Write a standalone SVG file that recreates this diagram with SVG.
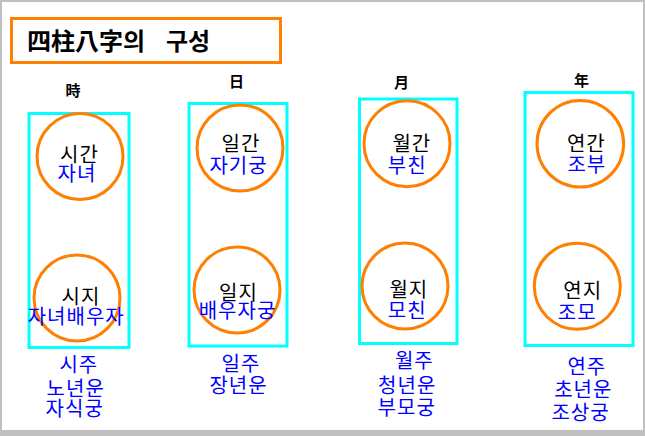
<svg xmlns="http://www.w3.org/2000/svg" width="645" height="436" viewBox="0 0 645 436">
<style>
text{font-family:"Noto Sans CJK KR","Noto Sans CJK SC",sans-serif;text-anchor:middle}
.k{fill:#000;font-size:20px;letter-spacing:1px}
.b{fill:#0000FF;font-size:20px;letter-spacing:1px}
.h{fill:#000;font-size:15px;font-weight:bold}
.col{fill:none;stroke:#00FFFF;stroke-width:3}
.c{fill:none;stroke:#FF8000;stroke-width:3}
</style>
<rect x="0" y="0" width="645" height="436" fill="#C0C0C0"/>
<rect x="2" y="2" width="641" height="428" fill="#FFFFFF"/>
<g id="title">
<rect x="11.5" y="18.5" width="269" height="44" fill="none" stroke="#FF8000" stroke-width="3"/>
<text x="27" y="50" style="text-anchor:start;font-size:24px;font-weight:bold">四柱八字의<tspan x="166">구성</tspan></text>
</g>
<g id="headers">
<text class="h" x="73" y="95.5">時</text>
<text class="h" x="236.5" y="87">日</text>
<text class="h" x="401.5" y="87.5">月</text>
<text class="h" x="581.5" y="86">年</text>
</g>
<g id="col-si">
<rect class="col" x="29" y="113.5" width="100" height="234"/>
<g id="si-gan"><circle class="c" cx="80" cy="156.5" r="43"/><text class="k" x="79.5" y="162">시간</text><text class="b" x="77" y="180.5">자녀</text></g>
<g id="si-ji"><circle class="c" cx="77" cy="298" r="43"/><text class="k" x="81" y="303.8">시지</text><text class="b" x="76.2" y="323.9">자녀배우자</text></g>
<g id="si-ju"><text class="b" x="78.8" y="372.3">시주</text><text class="b" x="75.7" y="395.8">노년운</text><text class="b" x="74.7" y="415.8">자식궁</text></g>
</g>
<g id="col-il">
<rect class="col" x="189" y="103.5" width="98" height="242.5"/>
<g id="il-gan"><circle class="c" cx="240" cy="148" r="43"/><text class="k" x="241" y="150.8">일간</text><text class="b" x="238.5" y="173.4">자기궁</text></g>
<g id="il-ji"><circle class="c" cx="237" cy="290" r="43"/><text class="k" x="238.5" y="300.1">일지</text><text class="b" x="237.5" y="318.1">배우자궁</text></g>
<g id="il-ju"><text class="b" x="241" y="370.8">일주</text><text class="b" x="238.5" y="393.4">장년운</text></g>
</g>
<g id="col-wol">
<rect class="col" x="359.5" y="99" width="97.5" height="244.5"/>
<g id="wol-gan"><circle class="c" cx="407" cy="143.7" r="43"/><text class="k" x="411.8" y="150.8">월간</text><text class="b" x="407.2" y="173.4">부친</text></g>
<g id="wol-ji"><circle class="c" cx="405" cy="286" r="43"/><text class="k" x="408.8" y="296.8">월지</text><text class="b" x="407.2" y="317.6">모친</text></g>
<g id="wol-ju"><text class="b" x="414.3" y="367.6">월주</text><text class="b" x="407.2" y="392.8">청년운</text><text class="b" x="406.7" y="414.8">부모궁</text></g>
</g>
<g id="col-yeon">
<rect class="col" x="525" y="92.5" width="108" height="253"/>
<g id="yeon-gan"><circle class="c" cx="580.3" cy="143.8" r="43.3"/><text class="k" x="586.3" y="150.8">연간</text><text class="b" x="586.8" y="171.8">조부</text></g>
<g id="yeon-ji"><circle class="c" cx="577.3" cy="286.3" r="43"/><text class="k" x="582.7" y="298.1">연지</text><text class="b" x="577.2" y="320.1">조모</text></g>
<g id="yeon-ju"><text class="b" x="586.8" y="374.3">연주</text><text class="b" x="583.3" y="397.3">초년운</text><text class="b" x="580.5" y="420.1">조상궁</text></g>
</g>
<g id="connectors"/>
</svg>
